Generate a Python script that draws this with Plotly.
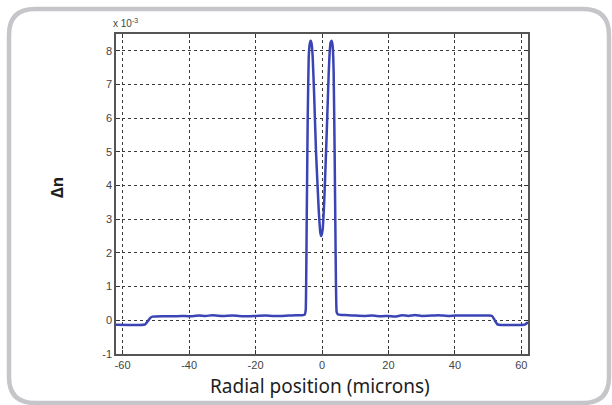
import plotly.graph_objects as go

# Radial refractive-index profile, values in units of 1e-3
radial_pos = [-62, -58, -55, -53.2, -52.4, -51.6, -51, -48, -45, -42, -40, -37, -35, -33,
              -30, -27, -25, -22, -20, -17, -15, -12, -10, -8, -6, -5.2,
              -4.9, -4.6, -4.3, -4.0, -3.7, -3.4, -3.1, -2.8, -2.4, -1.8, -1.0, -0.5, -0.2,
              0.2, 0.7, 1.4, 2.0, 2.3, 2.6, 2.9, 3.2, 3.5, 3.8, 4.1, 4.4,
              4.8, 6, 8, 10, 13, 15, 18, 20, 22, 24, 26, 28, 30, 33, 35, 38, 40,
              43, 45, 48, 50, 51.2, 52, 52.8, 54, 57, 60, 61.2, 62]
delta_n = [-0.13, -0.14, -0.14, -0.12, -0.02, 0.08, 0.11, 0.12, 0.12, 0.13, 0.12, 0.14, 0.13, 0.15,
           0.13, 0.14, 0.13, 0.12, 0.13, 0.14, 0.13, 0.13, 0.14, 0.15, 0.15, 0.17,
           0.3, 3.0, 6.0, 7.8, 8.2, 8.3, 8.2, 7.8, 6.8, 5.0, 3.3, 2.6, 2.5,
           2.7, 3.6, 5.5, 7.3, 7.95, 8.25, 8.3, 8.15, 7.4, 5.0, 2.0, 0.25,
           0.17, 0.16, 0.15, 0.14, 0.13, 0.14, 0.12, 0.13, 0.11, 0.15, 0.13, 0.16, 0.13, 0.14, 0.15, 0.13, 0.14,
           0.14, 0.14, 0.14, 0.14, 0.13, 0.0, -0.12, -0.14, -0.14, -0.14, -0.12, -0.06]

x_ticks = [-60, -40, -20, 0, 20, 40, 60]
y_ticks = [-1, 0, 1, 2, 3, 4, 5, 6, 7, 8]

fig = go.Figure()
fig.add_trace(go.Scatter(x=radial_pos, y=delta_n, mode="lines",
                         line=dict(color="#3a44b4", width=2.5, shape="spline", smoothing=0.3),
                         showlegend=False, hoverinfo="skip"))

L, R, T, B = 116, 528, 34, 354
W, H = 612, 405
pw, ph = R - L, B - T

def px(x):
    return (x - L) / pw

def py(y):
    return (B - y) / ph

# rounded frame around the whole picture
x0, x1, y0, y1, r = 9, 609, 9, 403, 26
path = (f"M {px(x0 + r)},{py(y0)} L {px(x1 - r)},{py(y0)} "
        f"Q {px(x1)},{py(y0)} {px(x1)},{py(y0 + r)} "
        f"L {px(x1)},{py(y1 - r)} Q {px(x1)},{py(y1)} {px(x1 - r)},{py(y1)} "
        f"L {px(x0 + r)},{py(y1)} Q {px(x0)},{py(y1)} {px(x0)},{py(y1 - r)} "
        f"L {px(x0)},{py(y0 + r)} Q {px(x0)},{py(y0)} {px(x0 + r)},{py(y0)} Z")
fig.add_shape(type="path", xref="paper", yref="paper", path=path,
              line=dict(color="#c6c6ca", width=4.5), layer="below")

axis_common = dict(showgrid=True, gridcolor="#3a3a3a", griddash="dot", gridwidth=1,
                   showline=True, linecolor="#555555", linewidth=1.5, mirror="allticks",
                   ticks="inside", ticklen=4, tickcolor="#333333", zeroline=False,
                   tickfont=dict(family="Liberation Sans, Arial", size=11, color="#444444"))

fig.update_layout(
    width=W, height=H,
    margin=dict(l=L, r=W - R, t=T, b=H - B),
    paper_bgcolor="white", plot_bgcolor="white",
    xaxis=dict(range=[-62, 62], tickvals=x_ticks, ticktext=[str(v) for v in x_ticks], **axis_common),
    yaxis=dict(range=[-1, 8.5], tickvals=y_ticks, ticktext=[str(v) for v in y_ticks], **axis_common),
)

fig.add_annotation(text="x 10<sup>-3</sup>", xref="paper", yref="paper", x=px(111), y=py(23),
                   xanchor="left", yanchor="middle", showarrow=False,
                   font=dict(family="Liberation Sans, Arial", size=10, color="#444444"))
fig.add_annotation(text="Radial position (microns)", xref="paper", yref="paper",
                   x=px(320), y=py(386), xanchor="center", yanchor="middle", showarrow=False,
                   font=dict(family="Noto Sans, Open Sans", size=19, color="#1e1e1e"))
fig.add_annotation(text="<b>Δn</b>", xref="paper", yref="paper", textangle=-90,
                   x=px(57), y=py(188), xanchor="center", yanchor="middle", showarrow=False,
                   font=dict(family="Noto Sans, Open Sans", size=16, color="#1e1e1e"))

fig.write_html("out.html")
